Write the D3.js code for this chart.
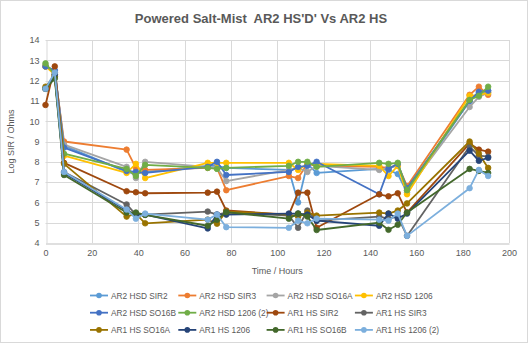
<!DOCTYPE html>
<html><head><meta charset="utf-8">
<script src="https://cdn.jsdelivr.net/npm/d3@7"></script>
<style>
html,body{margin:0;padding:0;background:#fff;}
text{font-family:"Liberation Sans","DejaVu Sans",sans-serif;}
</style></head>
<body><svg id="c" width="528" height="343"></svg>
<script>
const times = [0,4,8,35,39,43,70,74,78,105,109,113,117,144,148,152,156,183,187,191];
const seriesNames = ["AR2 HSD SIR2","AR2 HSD SIR3","AR2 HSD SO16A","AR2 HSD 1206","AR2 HSD SO16B","AR2 HSD 1206 (2)","AR1 HS SIR2","AR1 HS SIR3","AR1 HS SO16A","AR1 HS 1206","AR1 HS SO16B","AR1 HS 1206 (2)"];
const seriesColors = ["#5B9BD5","#ED7D31","#A5A5A5","#FFC000","#4472C4","#70AD47","#9E480E","#636363","#997300","#264478","#43682B","#7CAFDD"];
const ar2HsdSir2  = [12.7,12.5,8.8,7.5,7.4,7.5,7.8,7.8,7.7,7.6,6.0,7.9,7.45,7.65,7.6,7.4,6.5,11.0,11.4,11.5];
const ar2HsdSir3  = [12.7,12.4,9.0,8.6,7.7,7.6,7.7,7.7,6.6,7.3,7.2,7.9,7.8,7.75,7.7,7.85,6.8,11.3,11.7,11.3];
const ar2HsdSo16a = [12.75,12.4,8.85,7.75,7.2,8.0,7.75,7.7,7.05,7.6,7.7,7.5,7.8,7.6,7.7,7.8,6.6,10.7,11.2,11.4];
const ar2Hsd1206  = [12.7,12.3,8.3,7.45,7.9,7.2,7.95,7.95,7.95,7.95,7.6,7.9,7.9,7.8,7.3,7.8,6.4,11.25,11.3,11.4];
const ar2HsdSo16b = [12.7,12.5,8.7,7.55,7.5,7.45,7.75,8.0,7.35,7.5,7.75,7.8,8.0,6.4,7.65,7.9,6.7,11.0,11.45,11.5];
const ar2Hsd1206b = [12.85,12.3,8.4,7.65,7.3,7.85,7.7,7.65,7.7,7.8,8.0,8.0,7.75,7.95,7.9,7.95,6.6,11.05,11.25,11.7];
const ar1HsSir2   = [10.8,12.7,7.95,6.55,6.5,6.45,6.48,6.53,5.6,5.4,6.48,6.48,4.75,6.4,6.3,6.45,5.5,8.9,8.6,8.5];
const ar1HsSir3   = [11.6,12.2,7.5,5.9,5.4,5.4,5.55,5.4,5.5,5.35,4.75,5.6,5.1,5.3,5.2,5.3,4.35,8.75,8.3,8.25];
const ar1HsSo16a  = [11.7,12.2,7.9,5.3,5.45,4.97,5.15,4.95,5.55,5.4,5.3,5.5,5.35,5.5,5.45,5.6,5.95,9.0,8.4,7.7];
const ar1Hs1206   = [11.6,12.3,7.45,5.6,5.4,5.4,4.72,5.4,5.4,5.45,5.45,5.4,5.1,4.85,5.45,5.2,5.45,8.55,8.05,8.2];
const ar1HsSo16b  = [11.6,12.1,7.35,5.5,5.5,5.38,4.85,5.15,5.52,5.2,5.45,5.3,4.64,5.0,4.65,4.9,5.5,7.65,7.55,7.45];
const ar1Hs1206b  = [11.6,12.4,7.5,5.65,5.2,5.45,5.15,5.4,4.78,4.75,5.1,4.97,5.2,5.15,5.1,5.45,4.35,6.7,7.6,7.3];
const seriesValues = [ar2HsdSir2,ar2HsdSir3,ar2HsdSo16a,ar2Hsd1206,ar2HsdSo16b,ar2Hsd1206b,ar1HsSir2,ar1HsSir3,ar1HsSo16a,ar1Hs1206,ar1HsSo16b,ar1Hs1206b];
const xTicks = [0,20,40,60,80,100,120,140,160,180,200];
const yTicks = [4,5,6,7,8,9,10,11,12,13,14];

const svg = d3.select("#c");
svg.append("rect").attr("x",0.5).attr("y",0.5).attr("width",527).attr("height",342)
  .attr("fill","#fff").attr("stroke","#D9D9D9");

const L=45.5, R=509, T=40, B=243;
const x = d3.scaleLinear().domain([0,200]).range([L,R]);
const y = d3.scaleLinear().domain([4,14]).range([B,T]);

// gridlines
const g = svg.append("g");
g.selectAll(".hg").data(yTicks.filter(d=>d>4)).enter().append("line")
  .attr("x1",L).attr("x2",R).attr("y1",d=>Math.round(y(d))+0.5).attr("y2",d=>Math.round(y(d))+0.5)
  .attr("stroke","#D9D9D9").attr("stroke-width",1);
g.selectAll(".vg").data(xTicks.filter(d=>d>0)).enter().append("line")
  .attr("y1",T).attr("y2",B).attr("x1",d=>Math.round(x(d))+0.5).attr("x2",d=>Math.round(x(d))+0.5)
  .attr("stroke","#D9D9D9").attr("stroke-width",1);

// axes
const xAxis = svg.append("g").attr("transform",`translate(0,${Math.round(B)+0.5})`)
  .call(d3.axisBottom(x).tickValues(xTicks).tickSize(0).tickPadding(6));
xAxis.select(".domain").attr("stroke","#BFBFBF");
xAxis.selectAll("text").attr("fill","#595959").style("font-size","9px");
const yAxis = svg.append("g").attr("transform",`translate(${Math.round(L)+0.5},0)`)
  .call(d3.axisLeft(y).tickValues(yTicks).tickSize(0).tickPadding(7));
yAxis.select(".domain").attr("stroke","#D9D9D9");
yAxis.selectAll("text").attr("fill","#595959").style("font-size","9px");

// titles
svg.append("text").attr("x",261).attr("y",23).attr("text-anchor","middle")
  .attr("fill","#595959").style("font-size","13px").style("font-weight","bold")
  .attr("xml:space","preserve").text("Powered Salt-Mist  AR2 HS'D' Vs AR2 HS");
svg.append("text").attr("x",(L+R)/2).attr("y",274).attr("text-anchor","middle")
  .attr("fill","#595959").style("font-size","9px").text("Time / Hours");
svg.append("text").attr("transform",`translate(14,${(T+B)/2}) rotate(-90)`).attr("text-anchor","middle")
  .attr("fill","#595959").style("font-size","9px").text("Log SIR / Ohms");

// series
const line = d3.line().x((d,i)=>x(times[i])).y(d=>y(d));
seriesValues.forEach((vals,si)=>{
  const sg = svg.append("g");
  sg.append("path").datum(vals).attr("d",line).attr("fill","none")
    .attr("stroke",seriesColors[si]).attr("stroke-width",1.8).attr("stroke-linejoin","round");
  sg.selectAll("circle").data(vals).enter().append("circle")
    .attr("cx",(d,i)=>x(times[i])).attr("cy",d=>y(d)).attr("r",2.8)
    .attr("fill",seriesColors[si]).attr("stroke",seriesColors[si]).attr("stroke-width",0.8);
});

// legend
const lg = svg.append("g");
seriesNames.forEach((n,i)=>{
  const col=i%4, row=Math.floor(i/4);
  const lx = 90 + col*88.3, ly = 295.5 + row*17.2;
  lg.append("line").attr("x1",lx).attr("x2",lx+18).attr("y1",ly).attr("y2",ly)
    .attr("stroke",seriesColors[i]).attr("stroke-width",1.8);
  lg.append("circle").attr("cx",lx+9).attr("cy",ly).attr("r",2.8).attr("fill",seriesColors[i]);
  lg.append("text").attr("x",lx+21).attr("y",ly+3).attr("fill","#595959")
    .style("font-size","8.3px").text(n);
});
</script></body></html>
